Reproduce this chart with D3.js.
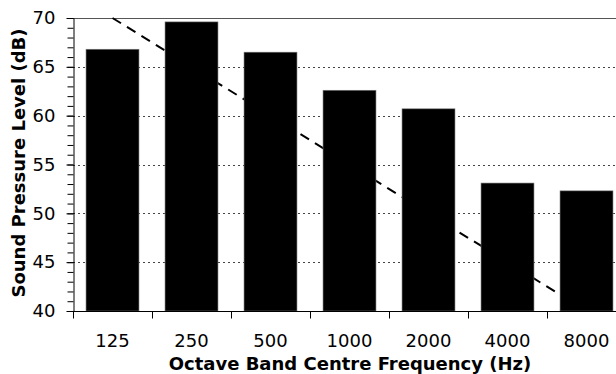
<!DOCTYPE html>
<html>
<head>
<meta charset="utf-8">
<script src="https://cdn.jsdelivr.net/npm/d3@7"></script>
<style>
  body { margin: 0; background: #fff; }
  svg { display: block; overflow: hidden; }
  text { font-family: "DejaVu Sans", Verdana, sans-serif; fill: #000; }
</style>
</head>
<body>
<svg id="chart" width="616" height="374"></svg>
<script>
// octave bands and measured levels
const bands = ["125", "250", "500", "1000", "2000", "4000", "8000"];
const levels = [66.8, 69.6, 66.5, 62.6, 60.7, 53.1, 52.3];
// dashed criterion line, one value per band
const criterion = [70, 65, 60, 55, 50, 45, 40];
const yTicks = [40, 45, 50, 55, 60, 65, 70];

const margin = { top: 18, left: 73, bottom: 63 };
const svg = d3.select("#chart");
const height = 374;
const plotRight = 626; // last band runs past the window edge

const x = d3.scaleBand().domain(bands).range([margin.left, plotRight]).padding(0);
const y = d3.scaleLinear().domain([40, 70]).range([height - margin.bottom, margin.top]);

// dotted grid
svg.append("g")
  .selectAll("line")
  .data(yTicks.filter(d => d > 40 && d < 70))
  .join("line")
  .attr("x1", margin.left).attr("x2", 616)
  .attr("y1", d => Math.round(y(d)) + 0.5).attr("y2", d => Math.round(y(d)) + 0.5)
  .attr("stroke", "#444").attr("stroke-width", 1)
  .attr("stroke-dasharray", "2,3");

// top frame line
svg.append("line")
  .attr("x1", margin.left).attr("x2", 616)
  .attr("y1", y(70) + 0.5).attr("y2", y(70) + 0.5)
  .attr("stroke", "#555");

// criterion line (sits behind the bars)
const line = d3.line()
  .x((d, i) => x(bands[i]) + x.bandwidth() / 2)
  .y(d => y(d));
svg.append("path")
  .datum(criterion)
  .attr("d", line)
  .attr("fill", "none")
  .attr("stroke", "#000").attr("stroke-width", 2)
  .attr("stroke-dasharray", "10,7");

// bars
const inset = x.bandwidth() * 0.165;
svg.append("g")
  .selectAll("rect")
  .data(levels)
  .join("rect")
  .attr("x", (d, i) => x(bands[i]) + inset)
  .attr("width", x.bandwidth() - 2 * inset)
  .attr("y", d => y(d))
  .attr("height", d => y(40) - y(d))
  .attr("fill", "#000")
  .attr("stroke", "#777").attr("stroke-width", 0.6);

// y axis with minor ticks
svg.append("g")
  .attr("transform", `translate(${margin.left + 0.5},0)`)
  .call(d3.axisLeft(y).tickValues(d3.range(40, 71, 1)).tickSize(6).tickFormat(""))
  .call(g => g.select(".domain").remove());
const yAxis = svg.append("g")
  .attr("transform", `translate(${margin.left + 0.5},0)`)
  .call(d3.axisLeft(y).tickValues(yTicks).tickSize(7).tickPadding(11).tickSizeOuter(0));
yAxis.selectAll("text").style("font-size", "18px").attr("font-family", null);

// x axis: ticks at band edges, labels at centres
const xAxisY = y(40) + 0.5;
svg.append("line")
  .attr("x1", margin.left).attr("x2", 616)
  .attr("y1", xAxisY).attr("y2", xAxisY)
  .attr("stroke", "#000");
svg.append("g")
  .selectAll("line")
  .data(bands)
  .join("line")
  .attr("x1", d => Math.round(x(d)) + 0.5).attr("x2", d => Math.round(x(d)) + 0.5)
  .attr("y1", xAxisY).attr("y2", xAxisY + 7)
  .attr("stroke", "#000");
svg.append("g")
  .selectAll("text")
  .data(bands)
  .join("text")
  .attr("x", d => x(d) + x.bandwidth() / 2)
  .attr("y", 347)
  .attr("text-anchor", "middle")
  .style("font-size", "18px")
  .text(d => d);

// axis titles
svg.append("text")
  .attr("x", 350).attr("y", 370)
  .attr("text-anchor", "middle")
  .style("font-size", "18px").style("font-weight", "bold")
  .text("Octave Band Centre Frequency (Hz)");
svg.append("text")
  .attr("transform", `translate(25,163) rotate(-90)`)
  .attr("text-anchor", "middle")
  .style("font-size", "18px").style("font-weight", "bold")
  .text("Sound Pressure Level (dB)");
</script>
</body>
</html>
